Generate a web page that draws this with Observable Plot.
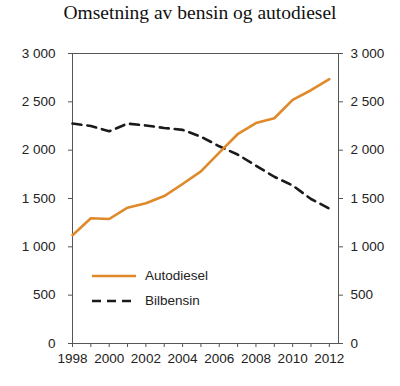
<!DOCTYPE html>
<html>
<head>
<meta charset="utf-8">
<script src="https://cdn.jsdelivr.net/npm/d3@7"></script>
<script src="https://cdn.jsdelivr.net/npm/@observablehq/plot@0.6"></script>
<style>
  html, body { margin: 0; padding: 0; background: #fff; }
  #wrap { position: relative; width: 400px; height: 386px; }
  #title { position: absolute; left: 0; top: 2px; width: 400px; text-align: center;
           font-family: "Liberation Serif", "DejaVu Serif", serif; font-size: 19.5px; color: #111; }
  #chart { position: absolute; left: 0; top: 30px; }
  #legend { position: absolute; left: 92px; top: 263px; font-family: "Liberation Sans", Arial, sans-serif;
            font-size: 13.5px; color: #222; }
  .item { display: flex; align-items: center; height: 25px; }
  .item svg { margin-right: 9px; }
</style>
</head>
<body>
<div id="wrap">
  <div id="title">Omsetning av bensin og autodiesel</div>
  <div id="chart"></div>
  <div id="legend"></div>
</div>
<script>
const years = [1998,1999,2000,2001,2002,2003,2004,2005,2006,2007,2008,2009,2010,2011,2012];
const autodiesel = [1120,1295,1288,1405,1450,1525,1650,1780,1975,2165,2280,2330,2520,2620,2735];
const bilbensin = [2275,2250,2195,2275,2255,2230,2210,2140,2040,1955,1840,1725,1635,1495,1395];
const seriesNames = ["Autodiesel", "Bilbensin"];
const colors = ["#E0892B", "#1a1a1a"];
const dashes = [null, "9,6"];
const yTicks = [0,500,1000,1500,2000,2500,3000];

const data = [];
years.forEach((yr, i) => {
  data.push({year: yr, value: autodiesel[i], series: seriesNames[0]});
  data.push({year: yr, value: bilbensin[i], series: seriesNames[1]});
});

const fmt = v => d3.format(",")(v).replace(/,/g, " ");

const plot = Plot.plot({
  width: 400,
  height: 356,
  marginTop: 23,
  marginBottom: 43,
  marginLeft: 72,
  marginRight: 62,
  style: {fontFamily: "Liberation Sans, Arial, sans-serif", fontSize: "13.5px", color: "#222", background: "#fff"},
  x: {domain: [1998, 2012.5]},
  y: {domain: [0, 3000]},
  marks: [
    Plot.frame({stroke: "#555", strokeWidth: 1}),
    Plot.axisX({ticks: years, tickSize: 4, tickPadding: 6, tickFormat: d => d % 2 === 0 ? String(d) : "", label: null, stroke: "#555"}),
    Plot.axisY({ticks: yTicks, anchor: "left", tickSize: 4, tickPadding: 13, tickFormat: fmt, label: null, stroke: "#555"}),
    Plot.axisY({ticks: yTicks, anchor: "right", tickSize: 4, tickPadding: 8, tickFormat: fmt, label: null, stroke: "#555"}),
    Plot.line(data.filter(d => d.series === seriesNames[1]), {x: "year", y: "value", stroke: colors[1], strokeWidth: 2.6, strokeDasharray: dashes[1]}),
    Plot.line(data.filter(d => d.series === seriesNames[0]), {x: "year", y: "value", stroke: colors[0], strokeWidth: 2.6})
  ]
});
document.getElementById("chart").appendChild(plot);

const legend = document.getElementById("legend");
seriesNames.forEach((name, i) => {
  const item = document.createElement("div");
  item.className = "item";
  item.innerHTML = `<svg width="44" height="6"><line x1="0" y1="3" x2="44" y2="3" stroke="${colors[i]}" stroke-width="2.6" ${dashes[i] ? `stroke-dasharray="${dashes[i]}"` : ""}/></svg><span>${name}</span>`;
  legend.appendChild(item);
});
</script>
</body>
</html>
